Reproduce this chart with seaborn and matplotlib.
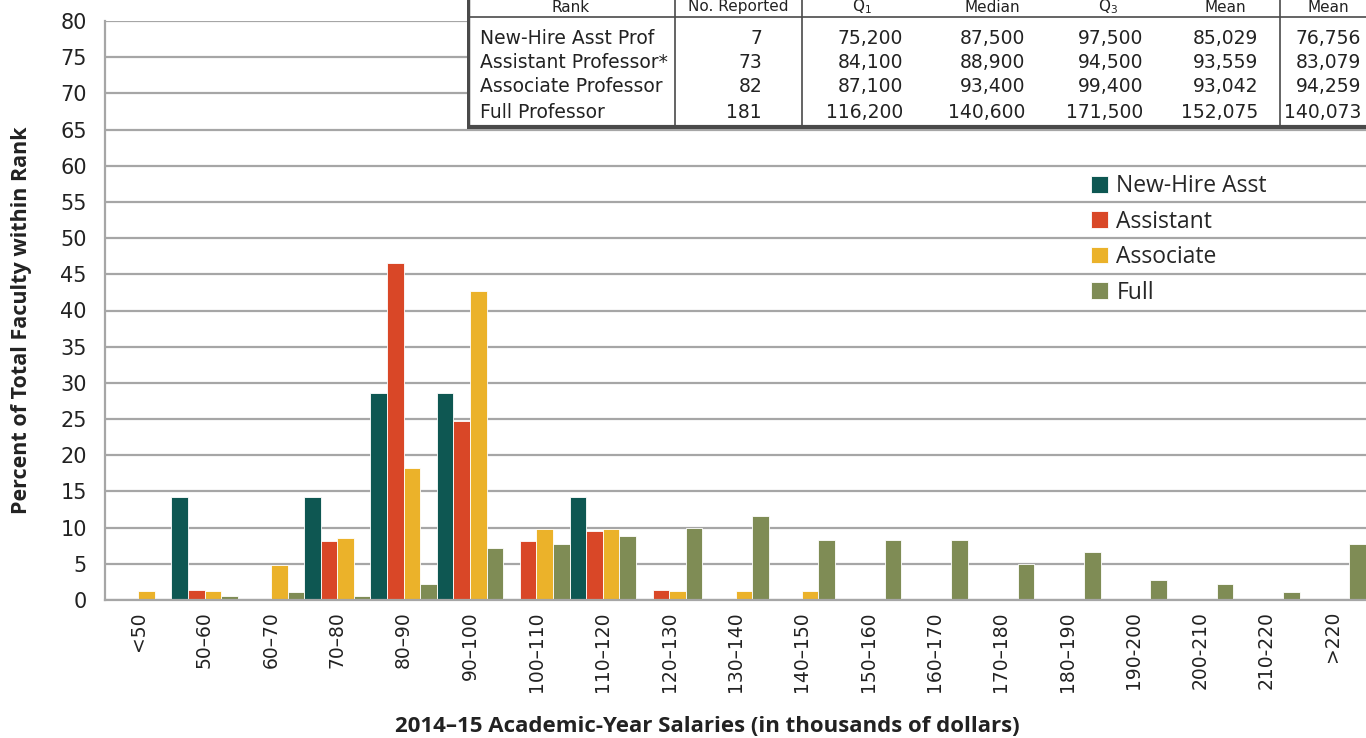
import matplotlib
matplotlib.use("Agg")
import matplotlib.pyplot as plt
import seaborn as sns
import numpy as np
import pandas as pd

# salary bins (thousands of dollars)
bins = ['<50', '50–60', '60–70', '70–80', '80–90', '90–100', '100–110', '110–120',
        '120–130', '130–140', '140–150', '150–160', '160–170', '170–180', '180–190',
        '190-200', '200-210', '210-220', '>220']
ranks = ['New-Hire Asst', 'Assistant', 'Associate', 'Full']
colors = ['#0e5752', '#d94727', '#ebb22a', '#7f8c55']

# percent of faculty within rank
new_hire = [0, 14.3, 0, 14.3, 28.6, 28.6, 0, 14.3, 0, 0, 0, 0, 0, 0, 0, 0, 0, 0, 0]
assistant = [0, 1.4, 0, 8.2, 46.6, 24.7, 8.2, 9.6, 1.4, 0, 0, 0, 0, 0, 0, 0, 0, 0, 0]
associate = [1.2, 1.2, 4.9, 8.5, 18.3, 42.7, 9.8, 9.8, 1.2, 1.2, 1.2, 0, 0, 0, 0, 0, 0, 0, 0]
full = [0, 0.6, 1.1, 0.6, 2.2, 7.2, 7.7, 8.8, 9.9, 11.6, 8.3, 8.3, 8.3, 5.0, 6.6, 2.8, 2.2, 1.1, 7.7]

# summary table
tbl_header = ['Rank', 'No. Reported', 'Q$_1$', 'Median', 'Q$_3$', 'Mean', 'Mean']
tbl_rank = ['New-Hire Asst Prof', 'Assistant Professor*', 'Associate Professor', 'Full Professor']
tbl_n = ['7', '73', '82', '181']
tbl_q1 = ['75,200', '84,100', '87,100', '116,200']
tbl_median = ['87,500', '88,900', '93,400', '140,600']
tbl_q3 = ['97,500', '94,500', '99,400', '171,500']
tbl_mean = ['85,029', '93,559', '93,042', '152,075']
tbl_mean2 = ['76,756', '83,079', '94,259', '140,073']

df = pd.DataFrame({
    'bin': bins * 4,
    'rank': np.repeat(ranks, len(bins)),
    'pct': new_hire + assistant + associate + full,
})

sns.set_style("white")
plt.rcParams['font.family'] = ['Open Sans', 'DejaVu Sans']
narrow = ['Liberation Sans Narrow', 'DejaVu Sans']

W, H = 1366, 738
fig = plt.figure(figsize=(W / 100, H / 100), dpi=100)
ax = fig.add_axes([105 / W, 1 - 600 / H, (W - 105) / W, (600 - 21) / H])

sns.barplot(data=df, x='bin', y='pct', hue='rank', palette=colors, width=1.0,
            gap=0, saturation=1, edgecolor='white', linewidth=0.6, ax=ax)

grid_c = '#a6a6a6'
txt_c = '#222222'
ax.set_ylim(0, 80)
ax.set_xlim(-0.5, len(bins) - 0.5)
ax.set_yticks(range(0, 81, 5))
ax.yaxis.grid(True, color=grid_c, linewidth=1.6)
ax.set_axisbelow(True)
for s in ['top', 'right']:
    ax.spines[s].set_visible(False)
for s in ['left', 'bottom']:
    ax.spines[s].set_color(grid_c)
    ax.spines[s].set_linewidth(1.6)

ax.set_xticks(np.arange(-0.5, len(bins), 1), minor=True)
ax.tick_params(axis='x', which='major', length=0, pad=8, labelsize=13.5,
               labelrotation=90, colors=txt_c, labelfontfamily='DejaVu Sans')
ax.tick_params(axis='x', which='minor', length=8, width=1.5, color=grid_c)
ax.tick_params(axis='y', length=8, width=1.5, color=grid_c, labelsize=15,
               colors=txt_c, pad=5, labelfontfamily='DejaVu Sans')
ax.set_xlabel('')
ax.set_ylabel('')
fig.text(22 / W, 1 - 320 / H, 'Percent of Total Faculty within Rank', rotation=90,
         ha='center', va='center', fontsize=15.5, fontweight='bold', color=txt_c)
fig.text(707 / W, 1 - 726 / H, '2014–15 Academic-Year Salaries (in thousands of dollars)',
         ha='center', va='center', fontsize=16, fontweight='bold', color=txt_c)

handles, labels = ax.get_legend_handles_labels()
ax.legend(handles, labels, loc='upper left', bbox_to_anchor=(1082 / W, 1 - 165 / H),
          bbox_transform=fig.transFigure, frameon=False, fontsize=16.5,
          handlelength=0.75, handleheight=0.75, handletextpad=0.35,
          labelspacing=0.5, borderaxespad=0)

# table drawn in pixel-like coordinates
tax = fig.add_axes([467 / W, 1 - 129 / H, (W - 467) / W, 129 / H])
tax.set_xlim(467, W)
tax.set_ylim(129, 0)
tax.axis('off')
tax.add_patch(plt.Rectangle((467, -5), W, 134, facecolor='white', edgecolor='none'))
line_c = '#4a4a4a'
tax.plot([468, 468], [-5, 127], color=line_c, lw=2.5)
tax.plot([467, W], [126.5, 126.5], color=line_c, lw=3)
tax.plot([467, W], [17, 17], color=line_c, lw=1.2)
for xv in [675, 802, 1280]:
    tax.plot([xv, xv], [-5, 127], color=line_c, lw=1.2)

head_x = [571, 738, 862, 992, 1108, 1225, 1328]
for hx, t in zip(head_x, tbl_header):
    tax.text(hx, 7, t, ha='center', va='center', fontsize=11, family=narrow, color=txt_c)

row_y = [38, 62, 87, 113]
cols = [(tbl_n, 762), (tbl_q1, 903), (tbl_median, 1025), (tbl_q3, 1143),
        (tbl_mean, 1258), (tbl_mean2, 1361)]
for i, ry in enumerate(row_y):
    tax.text(480, ry, tbl_rank[i], ha='left', va='center', fontsize=13.5, family=narrow,
             color=txt_c)
    for vals, cx in cols:
        tax.text(cx, ry, vals[i], ha='right', va='center', fontsize=13.5, family=narrow,
                 color=txt_c)

plt.savefig('out.png', dpi=100)
plt.close()
